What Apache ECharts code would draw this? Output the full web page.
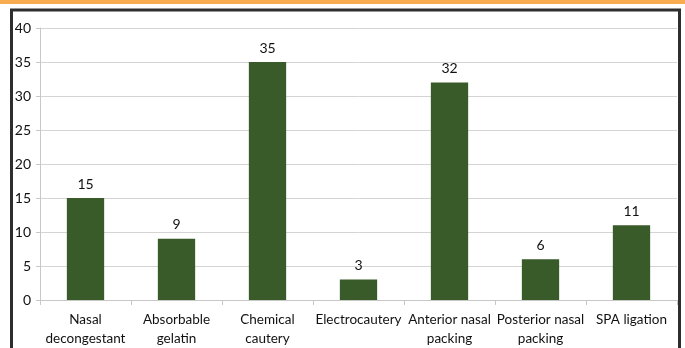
<!DOCTYPE html>
<html>
<head>
<meta charset="utf-8">
<script src="https://cdn.jsdelivr.net/npm/echarts@6/dist/echarts.min.js"></script>
<style>
html,body{margin:0;padding:0;background:#fff;}
#chart{width:685px;height:348px;}
</style>
</head>
<body>
<div id="chart"></div>
<script>
const categories = ["Nasal\ndecongestant", "Absorbable\ngelatin", "Chemical\ncautery", "Electrocautery", "Anterior nasal\npacking", "Posterior nasal\npacking", "SPA ligation"];
const values = [15, 9, 35, 3, 32, 6, 11];
const yTicks = [0, 5, 10, 15, 20, 25, 30, 35, 40];

const FONT = 'Lato, "DejaVu Sans Condensed", sans-serif';
const chart = echarts.init(document.getElementById('chart'));
chart.setOption({
  animation: false,
  backgroundColor: '#fff',
  textStyle: { fontFamily: FONT },
  graphic: [
    { type: 'rect', shape: { x: 0, y: 0, width: 685, height: 4 }, style: { fill: '#f9ac4f' } },
    { type: 'rect', shape: { x: 11.5, y: 10, width: 668, height: 400 }, style: { fill: 'none', stroke: '#2e2e2e', lineWidth: 3 } }
  ],
  grid: { left: 40, right: 8, top: 28, bottom: 48 },
  xAxis: {
    type: 'category',
    data: categories,
    axisLine: { lineStyle: { color: '#c8c8c8' } },
    axisTick: { show: true, length: 5, lineStyle: { color: '#c8c8c8' } },
    axisLabel: { color: '#111', fontSize: 13.5, fontFamily: FONT, lineHeight: 19, margin: 10, interval: 0 }
  },
  yAxis: {
    type: 'value',
    min: yTicks[0],
    max: yTicks[yTicks.length - 1],
    interval: 5,
    axisLine: { show: true, lineStyle: { color: '#c8c8c8' } },
    axisTick: { show: true, length: 4, lineStyle: { color: '#c8c8c8' } },
    axisLabel: { color: '#111', fontSize: 14, fontFamily: FONT, margin: 9 },
    splitLine: { lineStyle: { color: '#d4d4d4', width: 1 } }
  },
  series: [{
    type: 'bar',
    data: values,
    barWidth: '41%',
    itemStyle: { color: '#395a29' },
    label: { show: true, position: 'top', color: '#111', fontSize: 14, fontFamily: FONT, distance: 7 }
  }]
});
</script>
</body>
</html>
